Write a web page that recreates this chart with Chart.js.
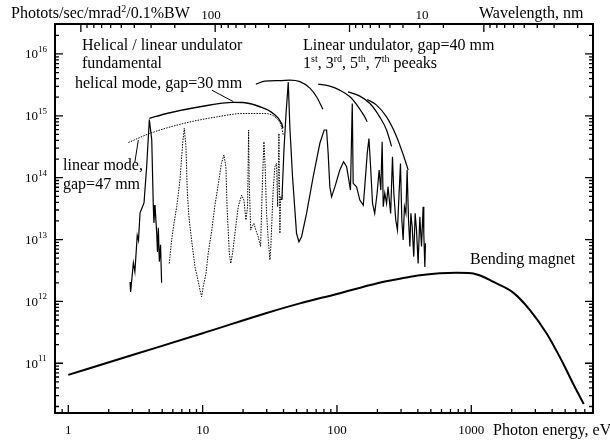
<!DOCTYPE html>
<html>
<head>
<meta charset="utf-8">
<script src="https://cdn.jsdelivr.net/npm/chart.js@4.4.1/dist/chart.umd.min.js"></script>
<style>
  body { margin: 0; background: #fff; }
  #wrap { width: 610px; height: 442px; }
</style>
</head>
<body>
<div id="wrap"><canvas id="myChart" width="610" height="442"></canvas></div>
<script>
// photon energy (eV) / brightness readings

// bending magnet
const bmEnergy = [1, 3, 10, 30, 53, 100, 200, 300, 400, 583, 776, 1000, 1200, 1450, 2040, 2725, 3630, 4300, 4820, 5720, 6870]
const bmFlux = [6.5e10, 1.36e11, 3.05e11, 6.5e11, 9.3e11, 1.32e12, 1.97e12, 2.35e12, 2.62e12, 2.85e12, 2.9e12, 2.85e12, 2.55e12, 2.08e12, 1.4e12, 7.3e11, 3.05e11, 1.6e11, 1.0e11, 4.7e10, 2.2e10]

// linear mode, gap=47 mm (solid spectrum)
const gap47Energy = [2.88, 2.91, 3.05, 3.13, 3.26, 3.33, 3.42, 3.53, 3.66, 3.83, 4.01, 4.18, 4.29, 4.34, 4.42, 4.55, 4.61, 4.68, 4.76, 4.86, 4.95]
const gap47Flux = [2.06e12, 1.42e12, 4.2e12, 3.0e12, 1.17e13, 9.7e12, 2.7e13, 3.2e13, 3.9e13, 1.5e14, 8.7e14, 4.1e14, 3.6e13, 1.85e13, 3.6e13, 1.27e13, 6.3e12, 1.55e13, 4.4e12, 8.2e12, 2.0e12]

// helical mode, gap=30 mm (dotted spectrum)
const gap30Energy = [5.64, 5.88, 6.12, 6.41, 6.78, 7.10, 7.30, 7.51, 7.68, 7.87, 8.05, 8.28, 8.51, 8.77, 9.12, 9.55, 9.83, 10.1, 10.6, 11.0,
  11.7, 12.3, 13.1, 13.8, 14.4, 14.9, 15.2, 15.8, 16.2, 16.7, 17.4, 18.4, 19.5, 20.3, 21.0, 21.6, 22.0, 22.2, 22.8, 23.3,
  24.1, 24.9, 25.9, 27.0, 27.9, 28.6, 29.2, 29.9, 30.8, 31.7, 32.2, 33.5, 34.5, 35.5, 36.2, 37.0, 37.6, 38.0, 38.7, 39.4]
const gap30Flux = [4.1e12, 9.8e12, 1.83e13, 3.39e13, 9.1e13, 3.6e14, 6.3e14, 3.2e14, 6.3e13, 2.65e13, 1.61e13, 9.8e12, 6.0e12, 3.6e12, 2.5e12, 1.53e12, 1.19e12, 1.73e12, 2.84e12, 6.0e12,
  1.42e13, 3.39e13, 8.1e13, 1.7e14, 2.32e14, 1.5e14, 3.39e13, 6.0e12, 4.1e12, 6.0e12, 1.26e13, 3.39e13, 5.2e13, 4.35e13, 2.07e13, 3.39e13, 5.9e14, 9.1e13, 1.42e13, 1.61e13,
  1.83e13, 1.42e13, 1.11e13, 7.7e12, 9.1e13, 3.8e14, 1.5e14, 2.65e13, 9.8e12, 4.7e12, 7.7e12, 6.3e13, 1.5e14, 1.7e14, 3.39e13, 5.2e14, 1.26e13, 4.9e13, 4.35e13, 5.2e13]

// linear undulator, gap=40 mm
const gap40Energy = [38.9, 40.3, 41.7, 43.4, 44.6, 46.7, 48.6, 50.0, 52.1, 54.5, 59.4, 66.5, 74.6, 80.3, 83.7, 86.0, 88.5, 91.2, 96.5, 105,
  112, 118, 125, 126, 130, 132, 140, 148, 157, 161, 168, 173, 178, 184, 191, 199, 206, 212, 217, 221,
  227, 234, 240, 251, 259, 265, 274, 282, 290, 297, 304, 311, 318, 326, 333, 341, 349, 355, 363, 373,
  382, 391, 402, 414, 426, 438, 443, 451, 456]
const gap40Flux = [4.35e13, 2.8e14, 1.03e15, 3.5e15, 6.6e14, 1.03e14, 3.0e13, 1.26e13, 9.2e12, 1.11e13, 2.65e13, 1.03e14, 3.6e14, 5.9e14, 5.9e14, 2.47e14, 7.1e13, 4.9e13, 7.1e13, 1.33e14,
  1.81e14, 1.5e14, 7.1e13, 6.3e13, 1.58e15, 8.1e13, 7.1e13, 4.35e13, 3.6e13, 7.1e13, 2.47e14, 4.3e14, 1.5e14, 3.85e13, 2.65e13, 5.6e13, 1.33e14, 6.3e13, 3.8e14, 3.39e13,
  5.6e13, 3.85e13, 7.1e13, 2.65e13, 2.18e14, 5.6e13, 2.07e13, 1.42e13, 5.6e13, 1.7e14, 2.07e13, 9.8e12, 3.39e13, 2.65e13, 1.33e14, 2.07e13, 7.7e12, 2.65e13, 1.61e13, 5.3e12,
  2.65e13, 1.42e13, 4.1e12, 2.33e13, 7.7e12, 3.39e13, 1.26e13, 3.6e12, 8.7e12]

// fundamental envelopes
const helEnvEnergy = [4.01, 5.40, 9.55, 16.9, 20.0, 26.7, 33.5, 38.7, 39.6]
const helEnvFlux = [9.1e14, 1.09e15, 1.4e15, 1.65e15, 1.64e15, 1.4e15, 1.09e15, 7.5e14, 6.3e14]
const linEnvEnergy = [2.80, 4.05, 7.17, 12.7, 20.0, 28.2, 35.5, 38.7, 39.8]
const linEnvFlux = [3.7e14, 5.2e14, 7.5e14, 9.6e14, 1.09e15, 1.09e15, 9.1e14, 6.6e14, 4.9e14]

// gap=40 mm harmonic peak envelopes (1st, 3rd, 5th, 7th)
const h1Energy = [24.9, 29.1, 37.6, 44.6, 53.0, 62.9, 70.8, 78.5]
const h1Flux = [3.25e15, 3.64e15, 3.7e15, 3.78e15, 3.57e15, 2.8e15, 2.0e15, 1.28e15]
const h3Energy = [72.5, 88.5, 105, 125, 144, 161, 168]
const h3Flux = [3.25e15, 3.02e15, 2.6e15, 2.03e15, 1.4e15, 9.6e14, 8.0e14]
const h5Energy = [121, 148, 176, 208, 234, 255]
const h5Flux = [2.44e15, 2.08e15, 1.58e15, 9.6e14, 5.9e14, 3.2e14]
const h7Energy = [168, 197, 234, 278, 315, 339]
const h7Flux = [1.84e15, 1.49e15, 9.6e14, 4.6e14, 2.18e14, 1.33e14]

// label leader lines
const leadHelEnergy = [11.7, 16.9]
const leadHelFlux = [2.6e15, 1.7e15]
const leadLinEnergy = [3.32, 3.13]
const leadLinFlux = [4.05e14, 1.79e14]

// axis ticks
const energyLabels = [1, 10, 100, 1000]
const fluxExponents = [11, 12, 13, 14, 15, 16]

const SERIF = '"Liberation Serif", "Times New Roman", serif'

function pts(xs, ys) {
    return xs.map((x, i) => ({ x: x, y: ys[i] }))
}

function line(xs, ys, opts) {
    return Object.assign({
        data: pts(xs, ys),
        showLine: true,
        borderColor: '#000',
        borderWidth: 1.2,
        pointRadius: 0,
        tension: 0,
        fill: false
    }, opts || {})
}

const smooth = { tension: 0.4, cubicInterpolationMode: 'monotone' }

// draws text with optional superscripts: parts = [[str, isSup], ...]
function drawRich(ctx, parts, x, y, size, supSize, rise) {
    let cx = x
    parts.forEach(p => {
        ctx.font = (p[1] ? supSize : size) + 'px ' + SERIF
        ctx.fillText(p[0], cx, p[1] ? y - rise : y)
        cx += ctx.measureText(p[0]).width
    })
}

// frame, inward ticks and all texts
const frame = {
    id: 'frame',
    afterDatasetsDraw(chart) {
        const ctx = chart.ctx
        const a = chart.chartArea
        const xs = chart.scales.x
        const ys = chart.scales.y
        ctx.save()
        ctx.strokeStyle = '#000'
        ctx.fillStyle = '#000'

        ctx.lineWidth = 1.3
        ctx.beginPath()
        // energy ticks (bottom)
        for (let d = -1; d <= 4; d++) {
            for (let k = 1; k <= 9; k++) {
                const v = k * Math.pow(10, d)
                if (v < xs.min || v > xs.max) continue
                const px = xs.getPixelForValue(v)
                ctx.moveTo(px, a.bottom)
                ctx.lineTo(px, a.bottom - (k === 1 ? 8 : 4))
            }
        }
        // wavelength ticks (top)
        for (let d = -1; d <= 3; d++) {
            for (let k = 1; k <= 9; k++) {
                const e = 1239.84 / (k * Math.pow(10, d))
                if (e < xs.min || e > xs.max) continue
                const px = xs.getPixelForValue(e)
                ctx.moveTo(px, a.top)
                ctx.lineTo(px, a.top + (k === 1 ? 8 : 4))
            }
        }
        // flux ticks (left and right)
        for (let d = 10; d <= 16; d++) {
            for (let k = 1; k <= 9; k++) {
                const v = k * Math.pow(10, d)
                if (v < ys.min || v > ys.max) continue
                const py = ys.getPixelForValue(v)
                const len = k === 1 ? 8 : 4
                ctx.moveTo(a.left, py)
                ctx.lineTo(a.left + len, py)
                ctx.moveTo(a.right, py)
                ctx.lineTo(a.right - len, py)
            }
        }
        ctx.stroke()

        ctx.lineWidth = 2
        ctx.strokeRect(a.left, a.top, a.right - a.left, a.bottom - a.top)

        // energy tick labels
        ctx.font = '13px ' + SERIF
        ctx.textAlign = 'center'
        ctx.textBaseline = 'alphabetic'
        energyLabels.forEach(v => {
            ctx.fillText(String(v), xs.getPixelForValue(v), 434)
        })
        // wavelength labels, placed as in the original
        ctx.fillText('100', 211, 19)
        ctx.fillText('10', 422, 19)

        // flux tick labels 10^n
        ctx.textAlign = 'left'
        fluxExponents.forEach(n => {
            const py = ys.getPixelForValue(Math.pow(10, n))
            drawRich(ctx, [['10', false], [String(n), true]], 25, py + 4.5, 13, 9, 6.5)
        })

        // axis titles
        drawRich(ctx, [['Photots/sec/mrad', false], ['2', true], ['/0.1%BW', false]], 11, 18, 16, 10, 6)
        ctx.font = '16px ' + SERIF
        ctx.fillText('Wavelength, nm', 479, 18)
        ctx.fillText('Photon energy, eV', 493, 435)

        // annotations
        ctx.fillText('Helical / linear undulator', 82, 50)
        ctx.fillText('fundamental', 82, 68)
        ctx.fillText('Linear undulator, gap=40 mm', 303, 50)
        drawRich(ctx, [['1', false], ['st', true], [', 3', false], ['rd', true], [', 5', false], ['th', true],
            [', 7', false], ['th', true], [' peeaks', false]], 303, 68, 16, 10, 6)
        ctx.font = '16px ' + SERIF
        ctx.fillText('helical mode, gap=30 mm', 75, 88)
        ctx.fillText('linear mode,', 63, 170)
        ctx.fillText('gap=47 mm', 63, 189)
        ctx.fillText('Bending magnet', 470, 264)
        ctx.restore()
    }
}

const ctx = document.getElementById('myChart').getContext('2d')
new Chart(ctx, {
    type: 'scatter',
    data: {
        datasets: [
            line(bmEnergy, bmFlux, Object.assign({ borderWidth: 2 }, smooth)),
            line(gap47Energy, gap47Flux),
            line(gap30Energy, gap30Flux, { borderWidth: 1, borderDash: [1.5, 1.2] }),
            line(gap40Energy, gap40Flux),
            line(helEnvEnergy, helEnvFlux, Object.assign({ borderWidth: 1.4 }, smooth)),
            line(linEnvEnergy, linEnvFlux, Object.assign({ borderWidth: 1, borderDash: [1.5, 1.2] }, smooth)),
            line(h1Energy, h1Flux, smooth),
            line(h3Energy, h3Flux, smooth),
            line(h5Energy, h5Flux, smooth),
            line(h7Energy, h7Flux, smooth),
            line(leadHelEnergy, leadHelFlux, { borderWidth: 1 }),
            line(leadLinEnergy, leadLinFlux, { borderWidth: 1 })
        ]
    },
    options: {
        responsive: false,
        animation: false,
        devicePixelRatio: 1,
        layout: { padding: { left: 55, right: 17, top: 24, bottom: 29 } },
        scales: {
            x: { type: 'logarithmic', min: 0.796, max: 8055, display: false },
            y: { type: 'logarithmic', min: 1.57e10, max: 3.05e16, display: false }
        },
        plugins: {
            legend: { display: false },
            tooltip: { enabled: false }
        }
    },
    plugins: [frame]
})
</script>
</body>
</html>
